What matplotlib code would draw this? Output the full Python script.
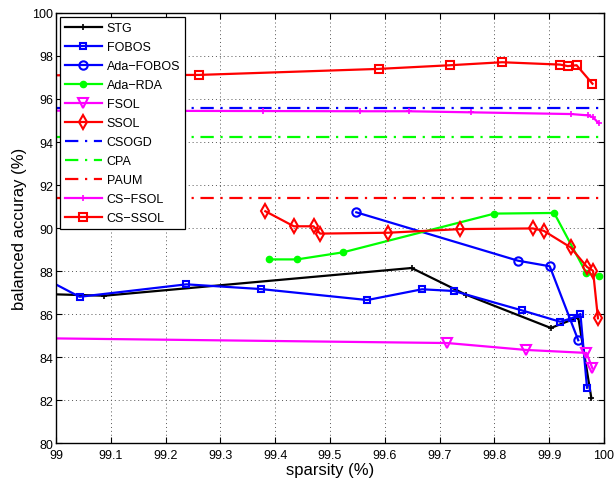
import matplotlib
matplotlib.use("Agg")
import matplotlib.pyplot as plt

plt.rcParams['font.family'] = ['Liberation Sans', 'DejaVu Sans']

stg_x = [98.95, 99.088, 99.649, 99.748, 99.903, 99.953, 99.977]
stg_y = [86.95, 86.85, 88.14, 86.90, 85.35, 85.85, 82.08]

fobos_x = [98.98, 99.043, 99.238, 99.374, 99.568, 99.668, 99.726, 99.850, 99.920, 99.942, 99.957, 99.969]
fobos_y = [87.64, 86.80, 87.38, 87.16, 86.65, 87.15, 87.07, 86.17, 85.64, 85.81, 86.00, 82.57]

adafobos_x = [99.548, 99.843, 99.901, 99.953]
adafobos_y = [90.73, 88.48, 88.22, 84.78]

adarda_x = [99.388, 99.440, 99.524, 99.800, 99.909, 99.968, 99.990]
adarda_y = [88.54, 88.54, 88.87, 90.67, 90.70, 87.89, 87.78]

fsol_x = [98.95, 99.714, 99.857, 99.968, 99.979]
fsol_y = [84.88, 84.65, 84.33, 84.19, 83.47]

ssol_x = [99.382, 99.434, 99.470, 99.482, 99.606, 99.738, 99.870, 99.890, 99.939, 99.969, 99.980, 99.989]
ssol_y = [90.78, 90.08, 90.08, 89.74, 89.78, 89.95, 89.98, 89.87, 89.10, 88.19, 88.01, 85.80]

csogd_y = 95.58
cpa_y = 94.22
paum_y = 91.38

csfsol_x = [98.95, 99.378, 99.555, 99.644, 99.758, 99.940, 99.970, 99.980, 99.990]
csfsol_y = [95.46, 95.44, 95.43, 95.43, 95.38, 95.30, 95.24, 95.15, 94.88]

csssol_x = [98.95, 99.261, 99.589, 99.719, 99.814, 99.920, 99.934, 99.950, 99.979]
csssol_y = [97.10, 97.12, 97.40, 97.57, 97.71, 97.60, 97.53, 97.57, 96.71]

xticks = [99, 99.1, 99.2, 99.3, 99.4, 99.5, 99.6, 99.7, 99.8, 99.9, 100]
xticklabels = ['99', '99.1', '99.2', '99.3', '99.4', '99.5', '99.6', '99.7', '99.8', '99.9', '100']
yticks = [80, 82, 84, 86, 88, 90, 92, 94, 96, 98, 100]

fig = plt.figure(figsize=(6.14, 4.81), dpi=100)
ax = fig.add_axes([0.0912, 0.0769, 0.8925, 0.894])

lw = 1.6
ms = 5
ax.plot(stg_x, stg_y, color='black', marker='+', ms=ms, mew=1.2, lw=lw, label='STG')
ax.plot(fobos_x, fobos_y, color='#0000ff', marker='s', ms=ms, mfc='none', mew=1.5, lw=lw, label='FOBOS')
ax.plot(adafobos_x, adafobos_y, color='#0000ff', marker='o', ms=ms + 1, mfc='none', mew=1.5, lw=lw, label='Ada\u2212FOBOS')
ax.plot(adarda_x, adarda_y, color='#00ff00', marker='.', ms=ms + 4, lw=lw, label='Ada\u2212RDA')
ax.plot(fsol_x, fsol_y, color='#ff00ff', marker='v', ms=ms + 2, mfc='none', mew=1.5, lw=lw, label='FSOL')
ax.plot(ssol_x, ssol_y, color='#ff0000', marker='d', ms=ms + 2, mfc='none', mew=1.5, lw=lw, label='SSOL')
ax.axhline(csogd_y, color='#0000ff', ls=(0, (6, 3, 1, 3)), lw=lw, label='CSOGD')
ax.axhline(cpa_y, color='#00ff00', ls=(0, (6, 3, 1, 3)), lw=lw, label='CPA')
ax.axhline(paum_y, color='#ff0000', ls=(0, (6, 3, 1, 3)), lw=lw, label='PAUM')
ax.plot(csfsol_x, csfsol_y, color='#ff00ff', marker='+', ms=ms, mew=1.2, lw=lw, label='CS\u2212FSOL')
ax.plot(csssol_x, csssol_y, color='#ff0000', marker='s', ms=ms + 1, mfc='none', mew=1.5, lw=lw, label='CS\u2212SSOL')

ax.set_xlim(99, 100)
ax.set_ylim(80, 100)
ax.set_xticks(xticks)
ax.set_xticklabels(xticklabels)
ax.set_yticks(yticks)
ax.tick_params(direction='in', top=True, right=True, labelsize=9, length=4)
ax.tick_params(axis='x', pad=4)
ax.tick_params(axis='y', pad=2)
ax.grid(True, color='#555555', ls=(0, (1, 3)), lw=0.7)
ax.set_axisbelow(True)
for s in ax.spines.values():
    s.set_linewidth(1.0)

ax.set_xlabel('sparsity (%)', fontsize=12, labelpad=1)
ax.set_ylabel('balanced accuray (%)', fontsize=12, labelpad=4)

leg = ax.legend(loc='upper left', fontsize=9, handlelength=2.9, borderpad=0.4,
                labelspacing=0.56, handletextpad=0.4, fancybox=False, framealpha=1,
                edgecolor='black', borderaxespad=0.35)
leg.get_frame().set_linewidth(0.9)

fig.savefig('out.png', dpi=100)
